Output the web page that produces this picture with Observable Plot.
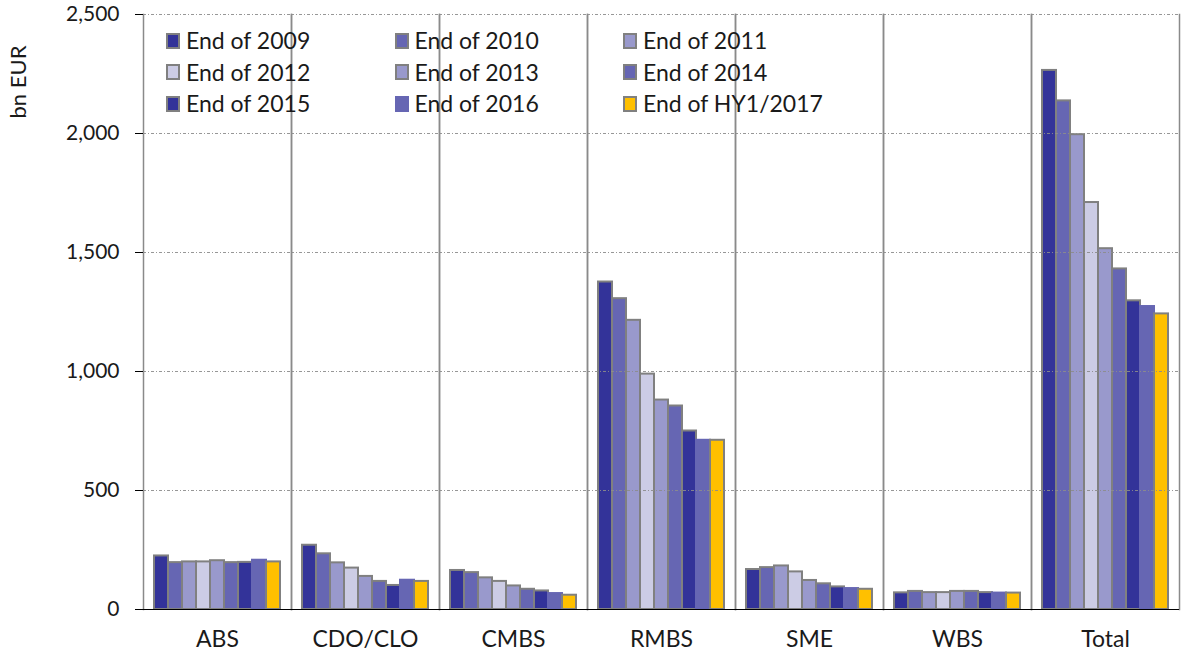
<!DOCTYPE html>
<html><head><meta charset="utf-8">
<script src="https://cdn.jsdelivr.net/npm/d3@7"></script>
<script src="https://cdn.jsdelivr.net/npm/@observablehq/plot@0.6"></script>
<style>
body{margin:0;background:#fff;font-family:Lato,"Open Sans",sans-serif;}
#wrap{position:relative;width:1183px;height:653px;overflow:hidden;}
.leg{position:absolute;display:flex;align-items:center;font-size:23px;color:#1a1a1a;white-space:nowrap;line-height:1;}
.sw{width:10px;height:12px;border:2px solid #808080;margin-right:6px;box-sizing:content-box;}
#ylab{position:absolute;left:17px;top:82px;transform:translate(-50%,-50%) rotate(-90deg);font-size:22px;color:#1a1a1a;white-space:nowrap;}
</style></head><body><div id="wrap"></div>
<script>
const categories = ["ABS","CDO/CLO","CMBS","RMBS","SME","WBS","Total"];
const series = ["End of 2009","End of 2010","End of 2011","End of 2012","End of 2013","End of 2014","End of 2015","End of 2016","End of HY1/2017"];
const seriesFill = ["#333399","#6666b3","#9999cc","#ccccE5","#9999cc","#6666b3","#333399","#6666b3","#ffc000"];
const seriesStroke = ["#808080","#808080","#808080","#808080","#808080","#808080","#808080","#6666b3","#808080"];
const ABS = [225,197,200,200,205,197,198,207,200];
const CDO_CLO = [270,234,196,174,139,118,101,123,118];
const CMBS = [164,155,133,118,99,85,78,67,60];
const RMBS = [1376,1306,1215,989,880,855,750,711,711];
const SME = [168,176,183,158,122,108,95,88,85];
const WBS = [70,76,71,71,76,76,71,69,69];
const Total = [2265,2137,1995,1710,1516,1431,1297,1273,1242];
const yTicks = [0,500,1000,1500,2000,2500];
const yLabel = "bn EUR";

const valuesByCat = [ABS, CDO_CLO, CMBS, RMBS, SME, WBS, Total];
const data = [];
categories.forEach((c, ci) => series.forEach((s, si) => data.push({category: c, series: s, value: valuesByCat[ci][si], fill: seriesFill[si], stroke: seriesStroke[si]})));

const fmt = d3.format(",");
const chart = Plot.plot({
  width: 1183, height: 653,
  marginLeft: 141, marginRight: 2, marginTop: 14, marginBottom: 44,
  style: {fontFamily: "Lato, 'Open Sans', sans-serif", fontSize: "21px", color: "#1a1a1a", background: "white"},
  fx: {domain: categories, padding: 0, label: null},
  x: {domain: series, paddingInner: 0, paddingOuter: 0.7, axis: null},
  y: {domain: [0, 2500], axis: null},
  color: {type: "identity"},
  marks: [
    Plot.frame({anchor: "left", stroke: "#8a8a8a", strokeWidth: 1.5}),
    Plot.frame({anchor: "right", stroke: "#8a8a8a", strokeWidth: 1.5}),
    Plot.barY(data, {fx: "category", x: "series", y: "value", fill: "fill", stroke: "stroke", strokeWidth: 2}),
    Plot.gridY(yTicks.filter(d => d > 0), {stroke: "#8c8c8c", strokeOpacity: 0.9, strokeDasharray: "3,2,1,2", strokeWidth: 1}),
    Plot.ruleY([0], {stroke: "#000", strokeWidth: 1}),
    Plot.axisY(yTicks, {tickSize: 8, tickPadding: 16, tickFormat: d => fmt(d), label: null, stroke: "#000", fontSize: 21}),
    Plot.axisFx({anchor: "bottom", tickSize: 0, tickPadding: 21, label: null, fontSize: 23})
  ]
});
const wrap = document.getElementById("wrap");
wrap.appendChild(chart);

series.forEach((s, i) => {
  const col = i % 3, row = Math.floor(i / 3);
  const d = document.createElement("div");
  d.className = "leg";
  d.style.left = (166 + col * 228.5) + "px";
  d.style.top = (29 + row * 31.5) + "px";
  const sw = document.createElement("div");
  sw.className = "sw";
  sw.style.background = seriesFill[i];
  sw.style.borderColor = seriesStroke[i];
  d.appendChild(sw);
  const t = document.createElement("span");
  t.textContent = s;
  d.appendChild(t);
  wrap.appendChild(d);
});
const yl = document.createElement("div");
yl.id = "ylab";
yl.textContent = yLabel;
wrap.appendChild(yl);
</script>
</body></html>
